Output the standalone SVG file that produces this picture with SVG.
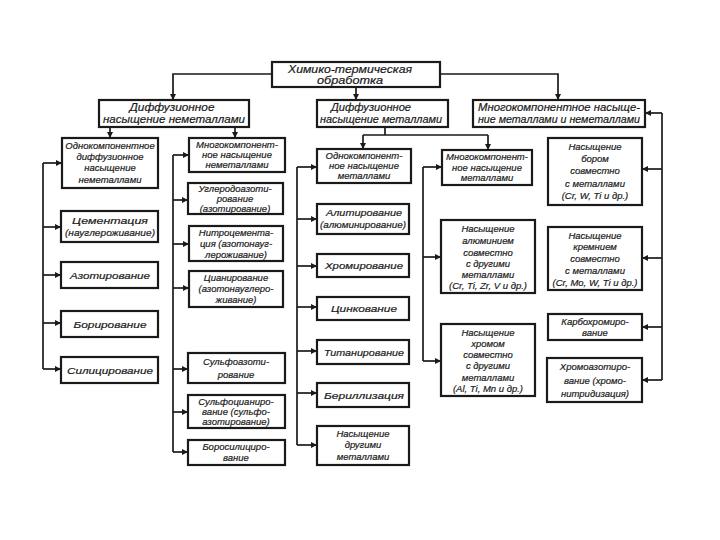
<svg xmlns="http://www.w3.org/2000/svg" width="720" height="540" viewBox="0 0 720 540">
<defs>
<marker id="ah" viewBox="0 0 10 10" refX="10" refY="5" markerWidth="7" markerHeight="6" markerUnits="userSpaceOnUse" orient="auto">
<path d="M0,0 L10,5 L0,10 z" fill="#1a1a1a"/>
</marker>
<style>
rect{fill:#fff;stroke:#1a1a1a;stroke-width:2.2}
text{font-family:"Liberation Sans","DejaVu Sans",sans-serif;font-style:italic;font-size:9.5px;fill:#1a1a1a;stroke:#1a1a1a;stroke-width:0.2;text-anchor:middle}
text.t{font-size:11px}
#connectors path{fill:none;stroke:#1a1a1a;stroke-width:1.7}
.a{marker-end:url(#ah)}
</style>
</defs>
<rect x="0" y="0" width="720" height="540" style="fill:#fff;stroke:none"/>
<g id="connectors">
<path class="a" d="M272,74 H173 V100"/>
<path class="a" d="M356,87 V100"/>
<path class="a" d="M440,74 H558 V100"/>
<path class="a" d="M110,127 V138"/>
<path class="a" d="M235,127 V138"/>
<path d="M43,163 V369"/>
<path class="a" d="M43,163 H62"/>
<path class="a" d="M43,227 H61"/>
<path class="a" d="M43,275 H61"/>
<path class="a" d="M43,323 H61"/>
<path class="a" d="M43,369 H61"/>
<path d="M173,155 V452"/>
<path class="a" d="M173,155 H189"/>
<path class="a" d="M173,200 H188"/>
<path class="a" d="M173,244 H189"/>
<path class="a" d="M173,288 H189"/>
<path class="a" d="M173,369 H188"/>
<path class="a" d="M173,412 H188"/>
<path class="a" d="M173,452 H188"/>
<path d="M385,127 V135 M363,135 H488"/>
<path class="a" d="M363,135 V149"/>
<path class="a" d="M488,135 V150"/>
<path d="M297,167 V445"/>
<path class="a" d="M297,167 H317"/>
<path class="a" d="M297,219 H317"/>
<path class="a" d="M297,266 H317"/>
<path class="a" d="M297,307 H317"/>
<path class="a" d="M297,351 H317"/>
<path class="a" d="M297,393 H317"/>
<path class="a" d="M297,445 H317"/>
<path d="M423,167 V361"/>
<path class="a" d="M423,167 H442"/>
<path class="a" d="M423,257 H441"/>
<path class="a" d="M423,361 H441"/>
<path d="M662,113 V380"/>
<path class="a" d="M662,113 H645"/>
<path class="a" d="M662,169 H642"/>
<path class="a" d="M662,258 H642"/>
<path class="a" d="M662,327 H642"/>
<path class="a" d="M662,380 H642"/>
</g>
<g id="n-root"><rect x="272" y="62" width="168" height="25"/><text class="t" x="350" y="73" textLength="124" lengthAdjust="spacingAndGlyphs">Химико-термическая</text><text class="t" x="350" y="84" textLength="66" lengthAdjust="spacingAndGlyphs">обработка</text></g>
<g id="n-dnn"><rect x="99" y="100" width="150" height="27"/><text class="t" x="172" y="111" textLength="85" lengthAdjust="spacingAndGlyphs">Диффузионное</text><text class="t" x="174" y="123" textLength="142" lengthAdjust="spacingAndGlyphs">насыщение неметаллами</text></g>
<g id="n-dnm"><rect x="317" y="100" width="131" height="27"/><text class="t" x="371" y="111" textLength="80" lengthAdjust="spacingAndGlyphs">Диффузионное</text><text class="t" x="381" y="123" textLength="122" lengthAdjust="spacingAndGlyphs">насыщение металлами</text></g>
<g id="n-mnmn"><rect x="473" y="100" width="172" height="27"/><text class="t" x="559" y="111" textLength="162" lengthAdjust="spacingAndGlyphs">Многокомпонентное насыще-</text><text class="t" x="559" y="123" textLength="162" lengthAdjust="spacingAndGlyphs">ние металлами и неметаллами</text></g>
<g id="n-odn"><rect x="62" y="138" width="96" height="50"/><text x="110" y="149">Однокомпонентное</text><text x="110" y="160">диффузионное</text><text x="110" y="171">насыщение</text><text x="110" y="183">неметаллами</text></g>
<g id="n-mnn"><rect x="189" y="138" width="96" height="34"/><text x="237" y="148">Многокомпонент-</text><text x="237" y="158">ное насыщение</text><text x="237" y="168">неметаллами</text></g>
<g id="n-cem"><rect x="61" y="211" width="97" height="31"/><text x="110" y="224" textLength="76" lengthAdjust="spacingAndGlyphs">Цементация</text><text x="110" y="236" textLength="90" lengthAdjust="spacingAndGlyphs">(науглероживание)</text></g>
<g id="n-azot"><rect x="61" y="262" width="97" height="26"/><text x="110" y="279" textLength="80" lengthAdjust="spacingAndGlyphs">Азотирование</text></g>
<g id="n-bor"><rect x="61" y="311" width="97" height="26"/><text x="110" y="328" textLength="73" lengthAdjust="spacingAndGlyphs">Борирование</text></g>
<g id="n-sil"><rect x="61" y="357" width="97" height="26"/><text x="110" y="374" textLength="86" lengthAdjust="spacingAndGlyphs">Силицирование</text></g>
<g id="n-uglaz"><rect x="188" y="183" width="95" height="31"/><text x="235" y="192">Углеродоазоти-</text><text x="235" y="202">рование</text><text x="235" y="212">(азотирование)</text></g>
<g id="n-nitro"><rect x="189" y="226" width="94" height="35"/><text x="236" y="236">Нитроцемента-</text><text x="236" y="247">ция (азотонауг-</text><text x="236" y="258">лероживание)</text></g>
<g id="n-cian"><rect x="189" y="271" width="94" height="36"/><text x="236" y="281">Цианирование</text><text x="236" y="292">(азотонауглеро-</text><text x="236" y="303">живание)</text></g>
<g id="n-sulfaz"><rect x="188" y="353" width="97" height="30"/><text x="236" y="365">Сульфоазоти-</text><text x="236" y="378">рование</text></g>
<g id="n-sulfcian"><rect x="188" y="395" width="97" height="33"/><text x="236" y="405">Сульфоцианиро-</text><text x="236" y="415">вание (сульфо-</text><text x="236" y="425">азотирование)</text></g>
<g id="n-borsil"><rect x="188" y="440" width="97" height="25"/><text x="236" y="450">Боросилициро-</text><text x="236" y="461">вание</text></g>
<g id="n-odm"><rect x="317" y="149" width="94" height="34"/><text x="364" y="159">Однокомпонент-</text><text x="364" y="169">ное насыщение</text><text x="364" y="179">металлами</text></g>
<g id="n-mnm"><rect x="442" y="150" width="90" height="35"/><text x="487" y="160">Многокомпонент-</text><text x="487" y="171">ное насыщение</text><text x="487" y="181">металлами</text></g>
<g id="n-alit"><rect x="317" y="204" width="92" height="30"/><text x="364" y="216" textLength="76" lengthAdjust="spacingAndGlyphs">Алитирование</text><text x="363" y="228" textLength="86" lengthAdjust="spacingAndGlyphs">(алюминирование)</text></g>
<g id="n-hrom"><rect x="317" y="254" width="92" height="23"/><text x="364" y="269" textLength="78" lengthAdjust="spacingAndGlyphs">Хромирование</text></g>
<g id="n-cink"><rect x="317" y="297" width="92" height="23"/><text x="364" y="312" textLength="66" lengthAdjust="spacingAndGlyphs">Цинкование</text></g>
<g id="n-titan"><rect x="317" y="340" width="92" height="24"/><text x="364" y="356" textLength="80" lengthAdjust="spacingAndGlyphs">Титанирование</text></g>
<g id="n-beril"><rect x="317" y="383" width="92" height="24"/><text x="364" y="399" textLength="80" lengthAdjust="spacingAndGlyphs">Бериллизация</text></g>
<g id="n-drug"><rect x="317" y="426" width="92" height="39"/><text x="363" y="437">Насыщение</text><text x="363" y="448">другими</text><text x="363" y="460">металлами</text></g>
<g id="n-alum"><rect x="441" y="220" width="94" height="73"/><text x="488" y="232">Насыщение</text><text x="488" y="244">алюминием</text><text x="488" y="256">совместно</text><text x="488" y="267">с другими</text><text x="488" y="278">металлами</text><text x="488" y="289">(Cr, Ti, Zr, V и др.)</text></g>
<g id="n-hromsov"><rect x="441" y="324" width="94" height="72"/><text x="488" y="336">Насыщение</text><text x="488" y="347">хромом</text><text x="488" y="358">совместно</text><text x="488" y="369">с другими</text><text x="488" y="381">металлами</text><text x="488" y="392">(Al, Ti, Mn и др.)</text></g>
<g id="n-borsov"><rect x="548" y="138" width="94" height="67"/><text x="595" y="150">Насыщение</text><text x="595" y="162">бором</text><text x="595" y="174">совместно</text><text x="595" y="187">с металлами</text><text x="595" y="199">(Cr, W, Ti и др.)</text></g>
<g id="n-krem"><rect x="548" y="227" width="94" height="63"/><text x="595" y="239">Насыщение</text><text x="595" y="250">кремнием</text><text x="595" y="262">совместно</text><text x="595" y="274">с металлами</text><text x="595" y="286">(Cr, Mo, W, Ti и др.)</text></g>
<g id="n-karb"><rect x="548" y="314" width="94" height="26"/><text x="595" y="325">Карбохромиро-</text><text x="595" y="336">вание</text></g>
<g id="n-hromaz"><rect x="547" y="358" width="95" height="44"/><text x="595" y="370">Хромоазотиро-</text><text x="595" y="384">вание (хромо-</text><text x="595" y="397">нитридизация)</text></g>
</svg>
